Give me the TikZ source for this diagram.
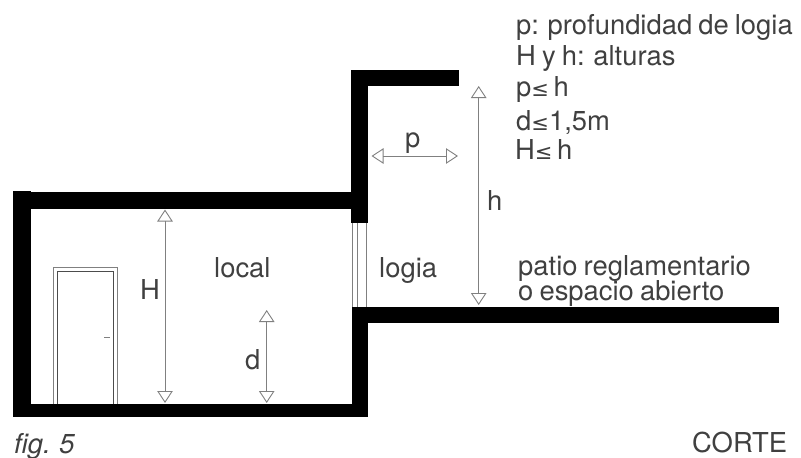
\documentclass[tikz,border=0pt]{standalone}
\usepackage{fontspec}
\setmainfont[WordSpace=0.8]{TeX Gyre Heros}
\newfontfamily\symfont{DejaVu Sans}
\usetikzlibrary{arrows.meta}
\definecolor{txt}{gray}{0.25}
\definecolor{dim}{gray}{0.5}
\tikzset{
  x=1pt,y=-1pt,
  wall/.style={fill=black,draw=none},
  thin line/.style={draw=dim,line width=0.9pt},
  door line/.style={draw=black!70,line width=0.8pt},
  dimline/.style={draw=dim,line width=0.9pt,{Triangle[open,length=12pt,width=15.5pt]}-{Triangle[open,length=12pt,width=15.5pt]}},
  lab/.style={text=txt,font=\fontsize{27.4}{27.4}\selectfont,inner sep=0pt,anchor=base west},
  labit/.style={lab,font=\fontsize{27.4}{27.4}\selectfont\itshape}
}
\newcommand{\lesym}{{\symfont\fontsize{21}{21}\selectfont ≤}}
\begin{document}
\begin{tikzpicture}
\useasboundingbox (0,0) rectangle (801,458);
% walls
\fill[wall] (13,190.5) rectangle (31,417);
\fill[wall] (13,191.5) rectangle (368,209);
\fill[wall] (13,404) rectangle (368,417);
\fill[wall] (352,307) rectangle (368,417);
\fill[wall] (352,307) rectangle (779,323);
\fill[wall] (351,70) rectangle (368,223);
\fill[wall] (351,70) rectangle (459,86);
% window
\draw[thin line] (352,223) -- (352,307);
\draw[thin line] (357.5,223) -- (357.5,307);
\draw[thin line] (366.7,223) -- (366.7,307);
% door
\draw[thin line,line width=1pt] (53.5,404) -- (53.5,267.5) -- (117.7,267.5) -- (117.7,404);
\draw[door line] (57.7,404) -- (57.7,271.5) -- (113.3,271.5) -- (113.3,404);
\draw[thin line] (104,337.5) -- (110,337.5);
% dimensions
\coordinate (Ht) at (165,209.5); \coordinate (Hb) at (165,403);
\coordinate (ht) at (478.7,86); \coordinate (hb) at (478.7,305);
\coordinate (pl) at (371.5,156); \coordinate (pr) at (458,156);
\coordinate (dt) at (266.7,310); \coordinate (db) at (266.7,403);
\draw[dimline] (Ht) -- (Hb);
\draw[dimline] (ht) -- (hb);
\draw[dimline] (pl) -- (pr);
\draw[dimline] (dt) -- (db);
% labels
\node[lab] (t1) at (516,34) {p: profundidad de logia};
\node[lab] (t2) at (516,65) {H y h: alturas};
\node[lab] (t3) at (516,96) {p\lesym\,h};
\node[lab] (t4) at (516,130) {d\lesym 1,5m};
\node[lab] (t5) at (515,159) {H\lesym\,h};
\node[lab] (lp) at (405,147) {p};
\node[lab] (lh) at (487,210) {h};
\node[lab] (lH) at (140,299) {H};
\node[lab] (ld) at (245,369) {d};
\node[lab] (lloc) at (214,277) {local};
\node[lab] (llog) at (379,277) {logia};
\node[lab] (lpa) at (518,275) {patio reglamentario};
\node[lab] (lpb) at (518,300) {o espacio abierto};
\node[labit] (lfig) at (14,453.5) {fig. 5};
\node[lab] (lcor) at (692,452) {CORTE};
\end{tikzpicture}
\end{document}
